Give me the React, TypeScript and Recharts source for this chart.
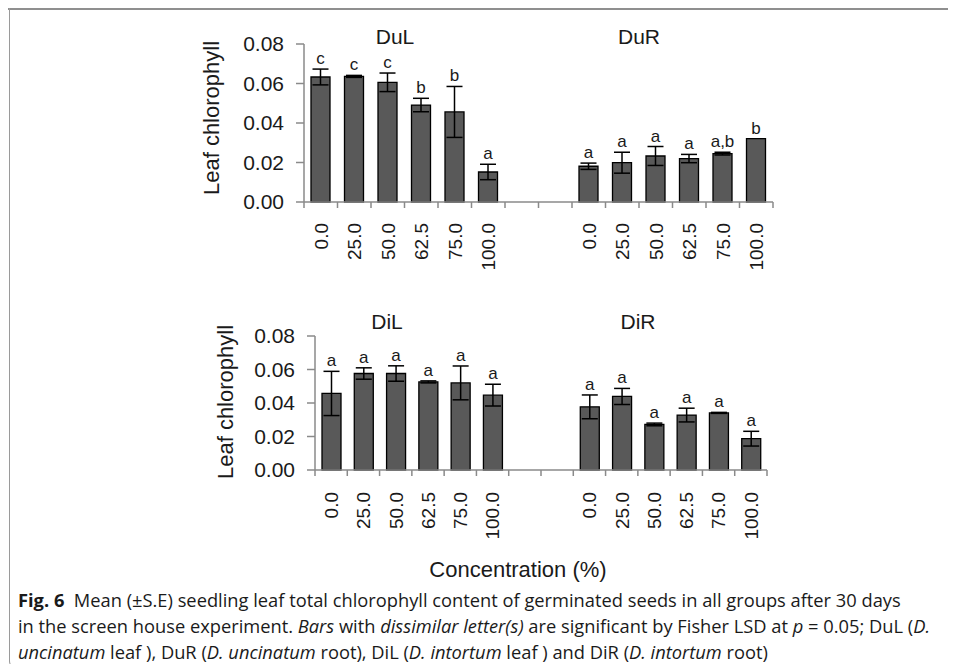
import React from 'react';
import { BarChart, Bar, XAxis, YAxis, ErrorBar } from 'recharts';

// concentration levels (%) shared by every group
const conc = ['0.0', '25.0', '50.0', '62.5', '75.0', '100.0'];

// D. uncinatum leaf / root
const dulMean = [0.0633, 0.0636, 0.0606, 0.0491, 0.0456, 0.0152];
const dulErr = [0.004, 0.0005, 0.0047, 0.0034, 0.0129, 0.0039];
const dulSig = ['c', 'c', 'c', 'b', 'b', 'a'];

const durMean = [0.0181, 0.0199, 0.0233, 0.022, 0.0245, 0.0321];
const durErr = [0.0016, 0.0053, 0.0048, 0.0021, 0.0007, 0];
const durSig = ['a', 'a', 'a', 'a', 'a,b', 'b'];

// D. intortum leaf / root
const dilMean = [0.0457, 0.0576, 0.0576, 0.0526, 0.052, 0.0447];
const dilErr = [0.0132, 0.0034, 0.0046, 0.0006, 0.0101, 0.0065];
const dilSig = ['a', 'a', 'a', 'a', 'a', 'a'];

const dirMean = [0.0377, 0.0439, 0.0272, 0.0328, 0.0341, 0.0187];
const dirErr = [0.0071, 0.0048, 0.0008, 0.0041, 0.0003, 0.0044];
const dirSig = ['a', 'a', 'a', 'a', 'a', 'a'];

const yTicks = [0, 0.02, 0.04, 0.06, 0.08];

const FONT = '"Liberation Sans", Arial, sans-serif';
const AXIS = '#8a8a8a';
const GAP = 2;

type Row = { idx: number; label: string; v: number | null; err: number | null; sig: string };

function buildRows(
  aMean: number[], aErr: number[], aSig: string[],
  bMean: number[], bErr: number[], bSig: string[],
): Row[] {
  const rows: Row[] = [];
  conc.forEach((c, i) => rows.push({ idx: rows.length, label: c, v: aMean[i], err: aErr[i], sig: aSig[i] }));
  for (let g = 0; g < GAP; g++) rows.push({ idx: rows.length, label: '', v: null, err: null, sig: '' });
  conc.forEach((c, i) => rows.push({ idx: rows.length, label: c, v: bMean[i], err: bErr[i], sig: bSig[i] }));
  return rows;
}

const topRows = buildRows(dulMean, dulErr, dulSig, durMean, durErr, durSig);
const bottomRows = buildRows(dilMean, dilErr, dilSig, dirMean, dirErr, dirSig);

function Panel({ rows, plotLeft, plotTop, plotRight, plotBottom, labelGap }: {
  rows: Row[]; plotLeft: number; plotTop: number; plotRight: number; plotBottom: number; labelGap: number;
}) {
  const W = 940;
  const H = 300;
  const xAxisH = 80;
  const band = (plotRight - plotLeft) / rows.length;
  const unit = (plotBottom - plotTop) / 0.08;

  const renderTick = (p: any) => {
    const { x, y, payload } = p;
    const i = Number(payload.value);
    const row = rows[i];
    return (
      <g>
        <line x1={x - band / 2} x2={x - band / 2} y1={y} y2={y + 6} stroke={AXIS} strokeWidth={1.5} />
        {i === rows.length - 1 && (
          <line x1={x + band / 2} x2={x + band / 2} y1={y} y2={y + 6} stroke={AXIS} strokeWidth={1.5} />
        )}
        {row && row.label && (
          <text
            x={x}
            y={y + labelGap}
            transform={`rotate(-90 ${x} ${y + labelGap})`}
            textAnchor="end"
            dy="0.36em"
            fontSize={19}
            fontFamily={FONT}
            fill="#1a1a1a"
          >
            {row.label}
          </text>
        )}
      </g>
    );
  };

  // significance letter above each bar (row found from the bar's band position)
  const renderSig = (p: any) => {
    const { x, y, width } = p;
    const i = Math.floor((x + width / 2 - plotLeft) / band);
    const row = rows[i];
    if (!row || row.v == null) return null;
    const top = y - (row.err || 0) * unit;
    return (
      <text x={x + width / 2} y={top - 5} textAnchor="middle" fontSize={17} fontFamily={FONT} fill="#1a1a1a">
        {row.sig}
      </text>
    );
  };

  return (
    <BarChart
      width={W}
      height={H}
      data={rows}
      barSize={19}
      margin={{ top: plotTop, right: W - plotRight, bottom: H - plotBottom - xAxisH, left: 0 }}
    >
      <XAxis
        dataKey="idx"
        type="category"
        height={xAxisH}
        interval={0}
        tickSize={0}
        tickMargin={0}
        tickLine={false}
        axisLine={{ stroke: AXIS, strokeWidth: 1.5 }}
        tick={renderTick}
      />
      <YAxis
        width={plotLeft}
        domain={[0, 0.08]}
        ticks={yTicks}
        tickFormatter={(v: number) => v.toFixed(2)}
        tickSize={8}
        tickMargin={12}
        axisLine={{ stroke: AXIS, strokeWidth: 1.5 }}
        tickLine={{ stroke: AXIS, strokeWidth: 1.5 }}
        tick={{ fontSize: 21, fontFamily: FONT, fill: '#1a1a1a' }}
      />
      <Bar dataKey="v" fill="#595959" stroke="#000" strokeWidth={1.3} isAnimationActive={false} label={renderSig}>
        <ErrorBar dataKey="err" direction="y" width={8} stroke="#000" strokeWidth={1.5} isAnimationActive={false} />
      </Bar>
    </BarChart>
  );
}

function Txt({ x, y, size, rotate, children }: { x: number; y: number; size: number; rotate?: boolean; children: React.ReactNode }) {
  return (
    <div
      style={{
        position: 'absolute',
        left: x,
        top: y,
        transform: `translate(-50%, -50%)${rotate ? ' rotate(-90deg)' : ''}`,
        fontFamily: FONT,
        fontSize: size,
        color: '#1a1a1a',
        whiteSpace: 'nowrap',
        lineHeight: 1,
      }}
    >
      {children}
    </div>
  );
}

export default function App() {
  return (
    <div style={{ position: 'relative', width: 940, height: 656 }}>
      <div style={{ position: 'absolute', left: 0, top: 0, width: 940, height: 2, background: '#8f8f8f' }} />
      <div
        style={{
          position: 'absolute',
          left: 1,
          top: 0,
          width: 14,
          height: 660,
          borderLeft: '1.5px solid #9a9a9a',
          borderBottom: '1.5px solid #9a9a9a',
          borderBottomLeftRadius: 8,
        }}
      />

      <div style={{ position: 'absolute', left: 0, top: 0 }}>
        <Panel rows={topRows} plotLeft={296} plotTop={36} plotRight={765} plotBottom={194} labelGap={21} />
      </div>
      <div style={{ position: 'absolute', left: 0, top: 300 }}>
        <Panel rows={bottomRows} plotLeft={307} plotTop={28} plotRight={759} plotBottom={162} labelGap={22} />
      </div>

      <Txt x={387} y={28} size={21}>DuL</Txt>
      <Txt x={631} y={28} size={21}>DuR</Txt>
      <Txt x={379} y={313} size={21}>DiL</Txt>
      <Txt x={630} y={313} size={21}>DiR</Txt>
      <Txt x={204} y={110} size={22} rotate>Leaf chlorophyll</Txt>
      <Txt x={218} y={394} size={22} rotate>Leaf chlorophyll</Txt>
      <Txt x={510} y={562} size={22}>Concentration (%)</Txt>

      <div
        style={{
          position: 'absolute',
          left: 10,
          top: 579,
          fontFamily: '"Open Sans", "Noto Sans", sans-serif',
          fontSize: 18.3,
          lineHeight: '26px',
          color: '#1a1a1a',
          whiteSpace: 'nowrap',
        }}
      >
        <b>Fig. 6</b>&nbsp; Mean (±S.E) seedling leaf total chlorophyll content of germinated seeds in all groups after 30 days
        <br />
        in the screen house experiment. <i>Bars</i> with <i>dissimilar letter(s)</i> are significant by Fisher LSD at <i>p</i> = 0.05; DuL (<i>D.</i>
        <br />
        <i>uncinatum</i> leaf ), DuR (<i>D. uncinatum</i> root), DiL (<i>D. intortum</i> leaf ) and DiR (<i>D. intortum</i> root)
      </div>
    </div>
  );
}
